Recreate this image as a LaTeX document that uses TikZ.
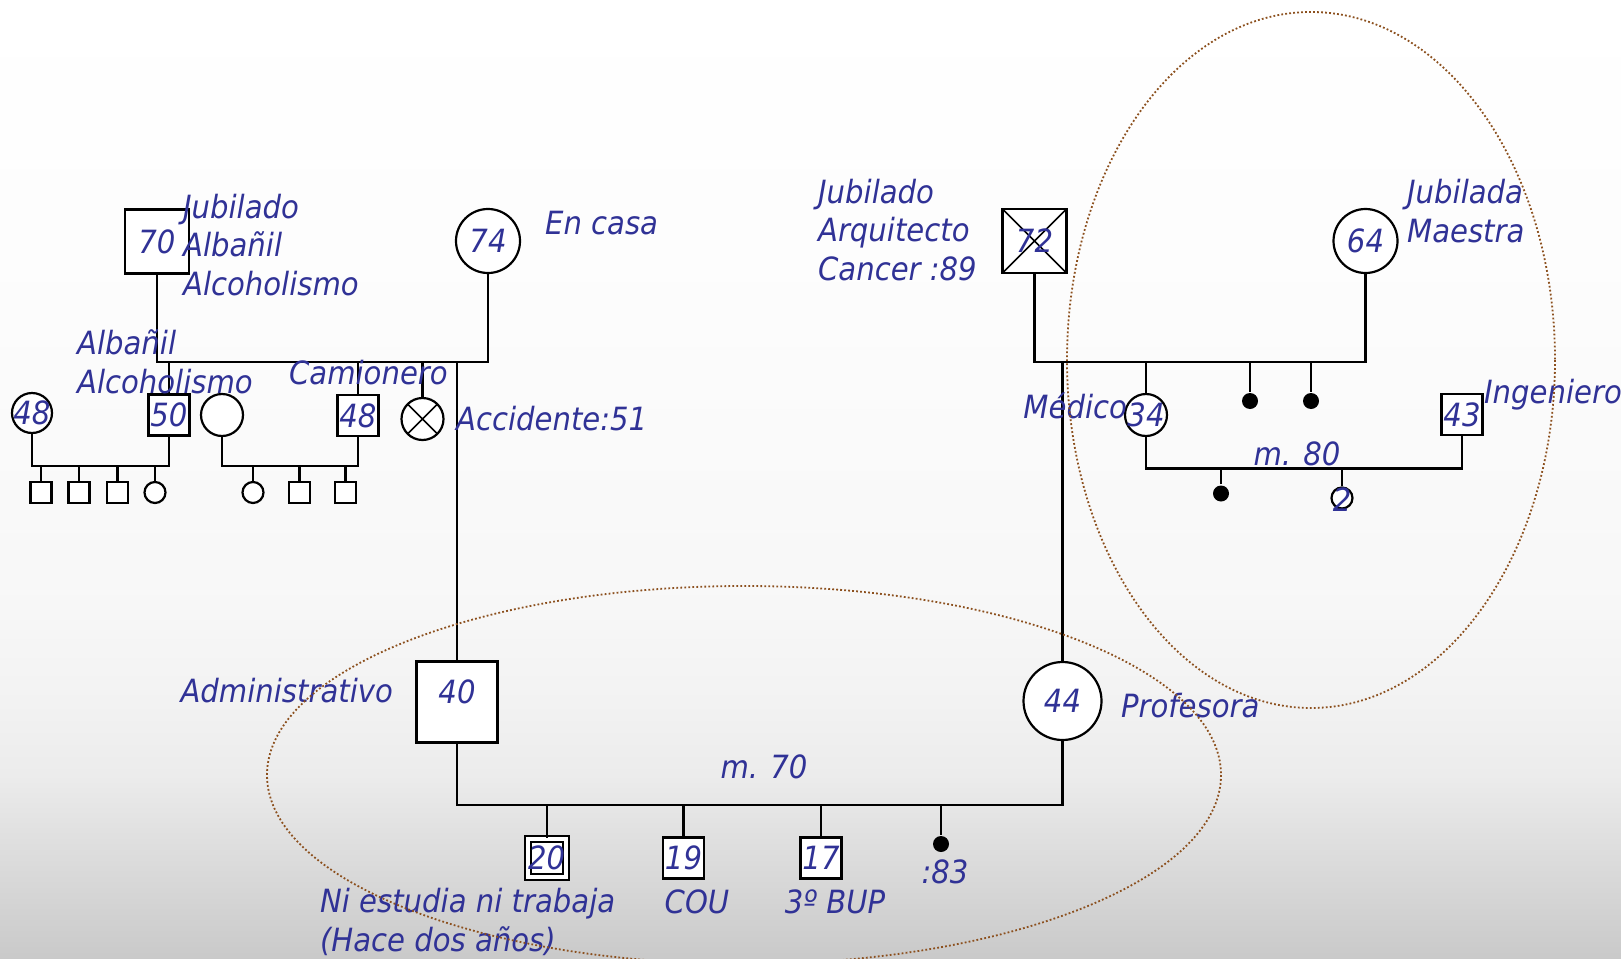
\documentclass[tikz,border=0pt]{standalone}
\usepackage{fontspec}
\setmainfont{DejaVu Sans}[FakeStretch=0.91]
\usetikzlibrary{positioning}
\definecolor{txtblue}{RGB}{48,50,150}
\definecolor{ringbrown}{RGB}{140,80,30}
\newcommand{\nm}[1]{\makebox[0pt]{#1}}
\pgfdeclareverticalshading{slidebg}{100bp}{color(0bp)=(white!79!black); color(25bp)=(white!79!black);
  color(31.5bp)=(white!88!black); color(34.5bp)=(white!92.5!black); color(38.5bp)=(white!95!black);
  color(43.5bp)=(white!97!black); color(60bp)=(white!99!black); color(75bp)=(white); color(100bp)=(white)}
\begin{document}
\begin{tikzpicture}[x=1pt,y=-1pt,line width=2.2pt,
    male/.style={draw,fill=white,minimum size=#1,inner sep=0pt,text=txtblue,
      font=\fontsize{32}{38}\selectfont\itshape},
    female/.style={male=#1,circle},
    crossed/.style={path picture={\draw[line width=1.6pt]
      (path picture bounding box.north west) -- (path picture bounding box.south east)
      (path picture bounding box.north east) -- (path picture bounding box.south west);}},
    dead/.style={circle,fill=black,minimum size=16pt,inner sep=0pt},
    lbl/.style={text=txtblue,font=\fontsize{32}{38.5}\selectfont\itshape,inner sep=0pt,align=left},
    ring/.style={draw=ringbrown,line width=1.8pt,dash pattern=on 1.8pt off 2.2pt}]
  \shade[shading=slidebg] (0,0) rectangle (1621,958);
  \useasboundingbox (0,0) rectangle (1621,958);
  % grandparents, father's side
  \node[male=64] (g70) at (157,241.5) {\nm{70}};
  \node[female=64] (g74) at (488,241) {\nm{74}};
  \coordinate (m1) at (320,362);
  \draw (g70.south) |- (m1) -| (g74.south);
  \node[male=41] (c50) at (169,415) {\nm{50}};
  \node[male=41] (c48) at (358,415.5) {\nm{48}};
  \node[female=42,crossed] (cx) at (422.5,419) {};
  \foreach \c in {c50,c48,cx} \draw (\c.north) -- (\c.north |- m1);
  \node[female=40] (w48) at (32,413) {\nm{48}};
  \node[female=42] (w0) at (222,415) {};
  \coordinate (s1) at (100,466);
  \coordinate (s2) at (290,466);
  \draw (w48.south) |- (s1) -| (c50.south);
  \draw (w0.south) |- (s2) -| (c48.south);
  \node[male=21] (a1) at (41,492.5) {};
  \node[male=21] (a2) at (79,492.5) {};
  \node[male=21] (a3) at (117.5,492.5) {};
  \node[female=21] (a4) at (155,492.5) {};
  \node[female=21] (b1) at (253,492.5) {};
  \node[male=21] (b2) at (299.5,492.5) {};
  \node[male=21] (b3) at (345.5,492.5) {};
  \foreach \k in {a1,a2,a3,a4} \draw (\k.north) -- (\k.north |- s1);
  \foreach \k in {b1,b2,b3} \draw (\k.north) -- (\k.north |- s2);
  % grandparents, mother's side
  \node[male=64,crossed] (g72) at (1034.5,241) {\nm{72}};
  \node[female=64] (g64) at (1365.5,241) {\nm{64}};
  \coordinate (m2) at (1200,362);
  \draw (g72.south) |- (m2) -| (g64.south);
  \node[female=42] (c34) at (1146,415) {\nm{34}};
  \node[dead] (d1) at (1250,401) {};
  \node[dead] (d2) at (1311,401) {};
  \node[female=78] (g44) at (1062.5,701) {\nm{44}};
  \foreach \c in {c34,d1,d2,g44} \draw (\c.north) -- (\c.north |- m2);
  \node[male=41] (h43) at (1462,414.5) {\nm{43}};
  \coordinate (m3) at (1300,468.5);
  \draw (c34.south) |- (m3) -| (h43.south);
  \node[dead] (d3) at (1221,493.5) {};
  \node[female=21,label={[lbl,yshift=-2pt]center:2}] (k2) at (1342,498) {};
  \foreach \c in {d3,k2} \draw (\c.north) -- (\c.north |- m3);
  % parents and children
  \node[male=81,text depth=20pt] (g40) at (457,702) {\nm{40}};
  \draw (g40.north) -- (g40.north |- m1);
  \coordinate (m4) at (760,805);
  \draw (g40.south) |- (m4) -| (g44.south);
  \node[male=38,double,double distance=4pt] (n20) at (546.7,858) {\nm{20}};
  \node[male=41] (n19) at (683.5,858) {\nm{19}};
  \node[male=41] (n17) at (821,858) {\nm{17}};
  \node[dead] (d4) at (941,844) {};
  \foreach \c in {n20,n19,n17,d4} \draw (\c.north) -- (\c.north |- m4);
  % texts (base = last line)
  \node[lbl,anchor=base west] (t70) at (182,295) {Jubilado\\Albañil\\Alcoholismo};
  \node[lbl,anchor=base west] (t74) at (544,234) {En casa};
  \node[lbl,anchor=base west] (t50) at (76,393) {Albañil\\Alcoholismo};
  \node[lbl,anchor=base west] (t48) at (288,384) {Camionero};
  \node[lbl,anchor=base west] (tx) at (455,430) {Accidente:51};
  \node[lbl,anchor=base west] (t72) at (817,280) {Jubilado\\Arquitecto\\Cancer :89};
  \node[lbl,anchor=base west] (t64) at (1406,242) {Jubilada\\Maestra};
  \node[lbl,anchor=base east] (t34) at (1128,418) {Médico};
  \node[lbl,anchor=base west] (t43) at (1483,403) {Ingeniero};
  \node[lbl,anchor=base] (tm80) at (1297,465) {m. 80};
  \node[lbl,anchor=base east] (t40) at (394,702) {Administrativo};
  \node[lbl,anchor=base west] (t44) at (1120,717) {Profesora};
  \node[lbl,anchor=base] (tm70) at (764,778) {m. 70};
  \node[lbl,anchor=base west] (t20) at (319,951) {Ni estudia ni trabaja\\(Hace dos años)};
  \node[lbl,anchor=base] (t19) at (697,913) {COU};
  \node[lbl,anchor=base] (t17) at (835,913) {3º BUP};
  \node[lbl,anchor=base] (td83) at (945,883) {:83};
  % groups
  \draw[ring] (744,775) ellipse (477 and 189);
  \draw[ring] (1311,360) ellipse (244 and 348);
\end{tikzpicture}
\end{document}
